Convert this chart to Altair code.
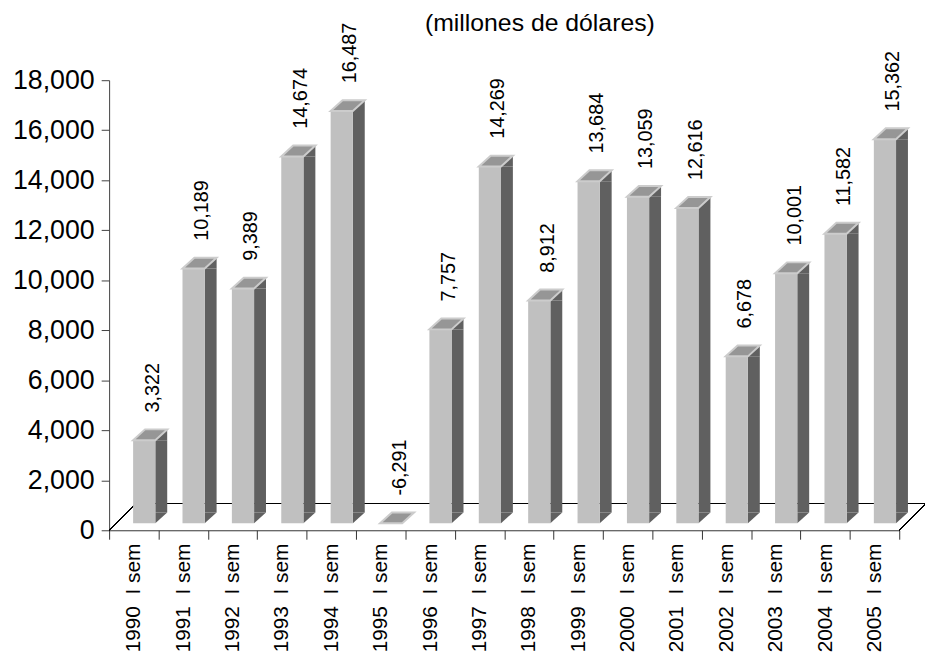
import altair as alt
import pandas as pd

FONT = "Liberation Sans"

years = ["1990", "1991", "1992", "1993", "1994", "1995", "1996", "1997",
         "1998", "1999", "2000", "2001", "2002", "2003", "2004", "2005"]
period = "I sem"
values = [3322, 10189, 9389, 14674, 16487, -6291, 7757, 14269,
          8912, 13684, 13059, 12616, 6678, 10001, 11582, 15362]
y_ticks = [0, 2000, 4000, 6000, 8000, 10000, 12000, 14000, 16000, 18000]
title_text = "(millones de dólares)"

cats = [f"{y}\u00a0\u00a0{period}" for y in years]
df = pd.DataFrame({"cat": cats, "value": values})
df["h"] = df["value"].clip(lower=0)
df["label"] = [f"{v:,}" for v in values]

W, H = 797, 454

x_enc = alt.X(
    "cat:N", sort=cats,
    scale=alt.Scale(paddingInner=0, paddingOuter=0),
    axis=alt.Axis(title=None, labelAngle=270, labelFontSize=21, labelFont=FONT,
                  labelColor="black", tickBand="extent", tickSize=9, labelPadding=4,
                  domainColor="#333333", tickColor="#333333", labelAlign="right",
                  labelBaseline="middle"),
)
y_enc = alt.Y(
    "h:Q",
    scale=alt.Scale(domain=[0, 18000], nice=False, zero=True),
    axis=alt.Axis(values=y_ticks, format=",d", title=None, labelFontSize=27,
                  labelFont=FONT, labelColor="black", grid=False, tickSize=8,
                  labelPadding=7, domainColor="#404040", tickColor="#404040"),
)

base = alt.Chart(df)

# floor / back-wall lines
back_line = base.mark_rule(color="black", strokeWidth=1, yOffset=-27).encode(
    x=alt.value(27), x2=alt.value(W + 27), y=alt.datum(0))
left_diag = base.mark_rule(color="black", strokeWidth=1, y2Offset=-27).encode(
    x=alt.value(0), x2=alt.value(27), y=alt.datum(0), y2=alt.datum(0))
right_diag = base.mark_rule(color="black", strokeWidth=1, y2Offset=-27).encode(
    x=alt.value(W), x2=alt.value(W + 27), y=alt.datum(0), y2=alt.datum(0))

pos = base.transform_filter("datum.value > 0")

DARK = "#606060"
FRONT = "#c0c0c0"
TOP = "#969696"
EDGE = "#cccccc"

side = pos.mark_bar(color=DARK, size=12, xOffset=27.7, yOffset=-7, y2Offset=-18).encode(
    x=x_enc, y=y_enc, y2=alt.datum(0))
front = pos.mark_bar(color=FRONT, size=22.4, xOffset=10.5, yOffset=-7, y2Offset=-7).encode(
    x=x_enc, y="h:Q", y2=alt.datum(0))

side_top = pos.mark_point(shape="M21.7,-7 L33.7,-18 L33.7,-7 Z", size=4, filled=True,
                          color=DARK, opacity=1, strokeWidth=0).encode(x=x_enc, y="h:Q")
side_bottom = pos.mark_point(shape="M21.7,-18 L21.7,-7 L33.7,-18 Z", size=4, filled=True,
                             color=DARK, opacity=1, strokeWidth=0).encode(x=x_enc, y=alt.datum(0))
top_face = base.mark_point(shape="M-0.7,-7 L21.7,-7 L33.7,-18 L11.3,-18 Z", size=4,
                           fill=TOP, stroke=EDGE, strokeWidth=2, opacity=1,
                           fillOpacity=1, strokeOpacity=1).encode(x=x_enc, y="h:Q")

labels = base.mark_text(angle=270, align="left", baseline="middle", fontSize=20, font=FONT,
                        color="black", xOffset=19, yOffset=-35).encode(
    x=x_enc, y="h:Q", text="label:N")

chart = alt.layer(
    back_line, left_diag, right_diag, side, side_bottom, front, side_top, top_face, labels
).properties(
    width=W, height=H,
    autosize=alt.AutoSizeParams(type="none"),
    padding={"left": 102, "top": 70, "right": 26, "bottom": 126},
    title=alt.TitleParams(title_text, font=FONT, fontSize=25, fontWeight="normal",
                          color="black", anchor="middle", frame="group", dx=36, dy=13,
                          offset=0),
    background="white",
).configure_view(strokeWidth=0)

chart.save("out.html", embed_options={"renderer": "svg", "actions": False})
